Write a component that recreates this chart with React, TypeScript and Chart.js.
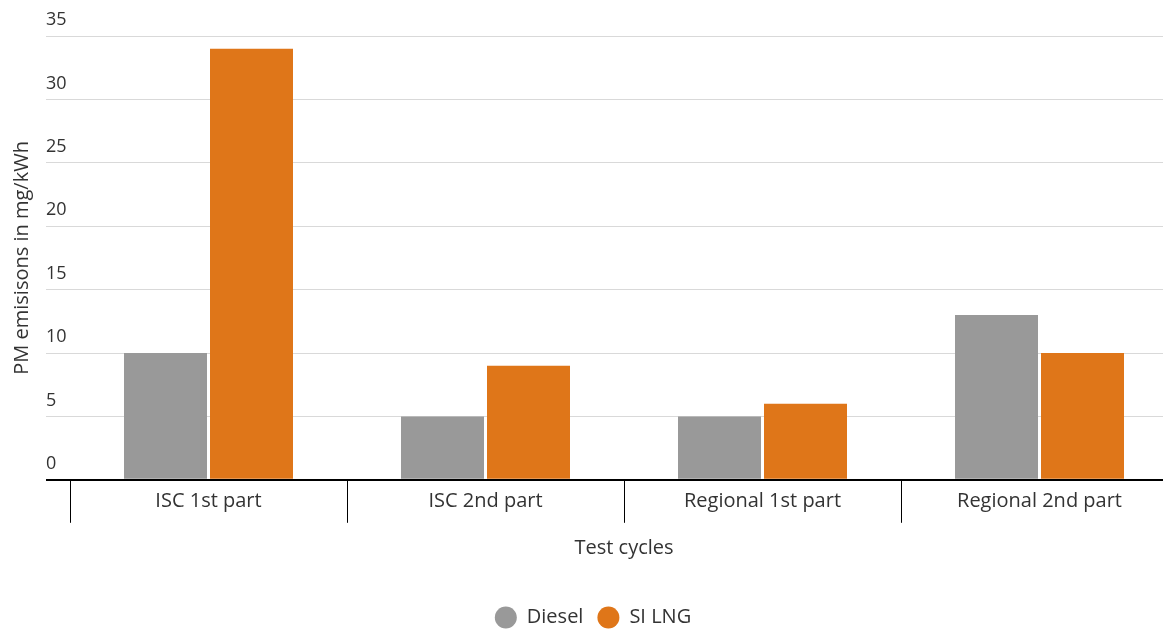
import React, { useEffect, useRef } from "react";
import { Chart, registerables } from "chart.js";

Chart.register(...registerables);

const categories = ["ISC 1st part", "ISC 2nd part", "Regional 1st part", "Regional 2nd part"];
const dieselValues = [10, 5, 5, 13];
const lngValues = [34, 9, 6, 10];
const seriesNames = ["Diesel", "SI LNG"];
const seriesColors = ["#999999", "#DF7619"];
const yMin = 0;
const yMax = 35;
const yStep = 5;
const xTitle = "Test cycles";
const yTitle = "PM emisisons in mg/kWh";

const FONT = "'Open Sans', Lato, sans-serif";
const TEXT = "#333333";

export default function App() {
  const ref = useRef<HTMLCanvasElement | null>(null);

  useEffect(() => {
    if (!ref.current) return;
    const chart = new Chart(ref.current, {
      type: "bar",
      data: {
        labels: categories,
        datasets: [
          {
            label: seriesNames[0],
            data: dieselValues,
            backgroundColor: seriesColors[0],
            borderWidth: 0,
            categoryPercentage: 0.621,
            barPercentage: 0.965,
          },
          {
            label: seriesNames[1],
            data: lngValues,
            backgroundColor: seriesColors[1],
            borderWidth: 0,
            categoryPercentage: 0.621,
            barPercentage: 0.965,
          },
        ],
      },
      options: {
        responsive: false,
        animation: false,
        devicePixelRatio: 1,
        layout: { padding: { left: 0, right: 20, top: 28, bottom: -7.5 } },
        plugins: {
          tooltip: { enabled: false },
          legend: {
            position: "bottom",
            labels: {
              usePointStyle: true,
              pointStyle: "circle",
              boxHeight: 15.5,
              pointStyleWidth: 22,
              padding: 14,
              color: TEXT,
              font: { family: FONT, size: 20 },
            },
          },
        },
        scales: {
          x: {
            grid: {
              display: true,
              drawOnChartArea: false,
              drawTicks: true,
              tickLength: 43,
              color: "#000000",
              lineWidth: 1,
              offset: true,
            },
            border: { display: true, color: "#000000", width: 2 },
            ticks: { padding: -34, color: TEXT, font: { family: FONT, size: 20 } },
            title: {
              display: true,
              text: xTitle,
              color: TEXT,
              font: { family: FONT, size: 20 },
              padding: { top: 57, bottom: 33.7 },
            },
          },
          y: {
            min: yMin,
            max: yMax,
            ticks: {
              stepSize: yStep,
              mirror: true,
              padding: -24,
              labelOffset: -16,
              color: TEXT,
              font: { family: FONT, size: 18 },
            },
            grid: {
              tickLength: 24,
              drawTicks: true,
              color: (c: any) => (c.tick && c.tick.value === 0 ? "#000000" : "#d9d9d9"),
              tickColor: (c: any) => (c.tick && c.tick.value === 0 ? "#000000" : "#d9d9d9"),
              lineWidth: (c: any) => (c.tick && c.tick.value === 0 ? 2 : 1),
            },
            border: { display: false },
            title: {
              display: true,
              text: yTitle,
              color: TEXT,
              font: { family: FONT, size: 20 },
              padding: { top: 2.5, bottom: 59.5 },
            },
          },
        },
      },
    });
    return () => chart.destroy();
  }, []);

  return (
    <div style={{ width: 1163, height: 622, overflow: "hidden" }}>
      <canvas ref={ref} width={1190} height={622} style={{ display: "block", width: 1190, height: 622 }} />
    </div>
  );
}
